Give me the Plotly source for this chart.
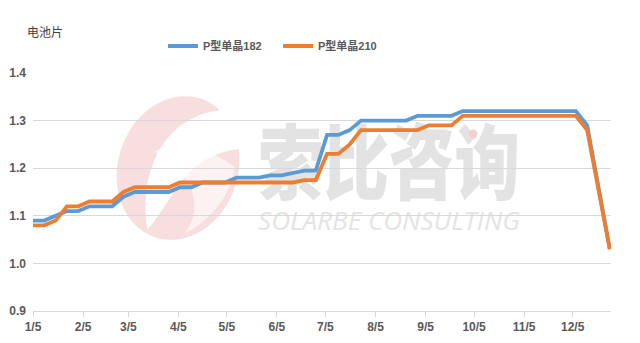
import base64
import pandas as pd
import plotly.graph_objects as go

# Weekly quote dates (every Wednesday of 2022)
dates = pd.date_range("2022-01-05", periods=52, freq="7D")

# Cell prices (RMB/W)
p182 = [1.09, 1.09, 1.10, 1.11, 1.11, 1.12, 1.12, 1.12, 1.14, 1.15, 1.15, 1.15, 1.15,
        1.16, 1.16, 1.17, 1.17, 1.17, 1.18, 1.18, 1.18, 1.185, 1.185, 1.19, 1.195, 1.195,
        1.27, 1.27, 1.28, 1.30, 1.30, 1.30, 1.30, 1.30, 1.31, 1.31, 1.31, 1.31,
        1.32, 1.32, 1.32, 1.32, 1.32, 1.32, 1.32, 1.32, 1.32, 1.32, 1.32, 1.29, 1.16, 1.03]
p210 = [1.08, 1.08, 1.09, 1.12, 1.12, 1.13, 1.13, 1.13, 1.15, 1.16, 1.16, 1.16, 1.16,
        1.17, 1.17, 1.17, 1.17, 1.17, 1.17, 1.17, 1.17, 1.17, 1.17, 1.17, 1.175, 1.175,
        1.23, 1.23, 1.25, 1.28, 1.28, 1.28, 1.28, 1.28, 1.28, 1.29, 1.29, 1.29,
        1.31, 1.31, 1.31, 1.31, 1.31, 1.31, 1.31, 1.31, 1.31, 1.31, 1.31, 1.28, 1.15, 1.03]

series_names = ["P型单晶182", "P型单晶210"]
series_colors = ["#5B9BD5", "#ED7D31"]

tick_dates = ["2022-01-05", "2022-02-05", "2022-03-05", "2022-04-05", "2022-05-05",
              "2022-06-05", "2022-07-05", "2022-08-05", "2022-09-05", "2022-10-05",
              "2022-11-05", "2022-12-05"]
tick_text = ["1/5", "2/5", "3/5", "4/5", "5/5", "6/5", "7/5", "8/5", "9/5", "10/5",
             "11/5", "12/5"]

W, H = 640, 343
ML, MR, MT, MB = 33, 29, 73, 32
PW, PH = W - ML - MR, H - MT - MB

# Brand watermark drawn as an SVG behind the plot
svg = f"""<svg xmlns="http://www.w3.org/2000/svg" width="{W}" height="{H}" viewBox="0 0 {W} {H}">
<g transform="rotate(18 178 168)">
<ellipse cx="178" cy="168" rx="60" ry="73" fill="#f6d3d3" fill-opacity="0.75"/>
<path d="M 205 98 C 150 120 140 180 168 236 C 185 200 178 150 238 128 C 228 112 218 102 205 98 Z" fill="#ffffff"/>
<path d="M 150 160 C 170 140 205 140 232 150 C 236 175 228 205 205 228 C 215 195 195 170 150 160 Z" fill="#ffffff" fill-opacity="0.6"/>
</g>
<text x="258" y="193" font-family="Noto Sans CJK SC" font-weight="900" font-size="82"
 textLength="262" lengthAdjust="spacingAndGlyphs" fill="#e3e3e3">索比咨询</text>
<circle cx="473" cy="134" r="4.5" fill="#f6d0d0"/>
<text x="258" y="230" font-family="Open Sans" font-style="italic" font-weight="400" font-size="26"
 textLength="262" lengthAdjust="spacingAndGlyphs" fill="#e4e4e4">SOLARBE CONSULTING</text>
</svg>"""
svg_uri = "data:image/svg+xml;base64," + base64.b64encode(svg.encode("utf-8")).decode()

fig = go.Figure()
for name, vals, col in zip(series_names, [p182, p210], series_colors):
    fig.add_trace(go.Scatter(
        x=dates, y=vals, mode="lines", name=name,
        line=dict(color=col, width=3.8),
    ))

fig.add_layout_image(dict(
    source=svg_uri, xref="paper", yref="paper",
    x=-ML / PW, y=1 + MT / PH, sizex=W / PW, sizey=H / PH,
    xanchor="left", yanchor="top", sizing="stretch", layer="below",
))

tick_font = dict(family="Liberation Sans, Arial, sans-serif", size=12, color="#595959", weight="bold")

fig.update_layout(
    width=W, height=H,
    margin=dict(l=ML, r=MR, t=MT, b=MB, autoexpand=False),
    paper_bgcolor="white",
    plot_bgcolor="rgba(0,0,0,0)",
    showlegend=True,
    legend=dict(
        orientation="h", x=(163 - ML) / PW, y=1 + (MT - 46) / PH,
        xanchor="left", yanchor="middle",
        font=dict(family="Liberation Sans, Noto Sans CJK SC, sans-serif", size=11,
                  color="#595959", weight="bold"),
        bgcolor="rgba(0,0,0,0)", itemwidth=30, entrywidth=70, tracegroupgap=0,
    ),
    xaxis=dict(
        type="date", range=["2022-01-05", "2022-12-28 18:00"],
        tickvals=tick_dates, ticktext=tick_text, tickfont=tick_font,
        ticks="outside", ticklen=5, tickcolor="#d9d9d9", tickwidth=1,
        showline=True, linecolor="#d9d9d9", linewidth=1, automargin=False,
        showgrid=False, zeroline=False, fixedrange=True,
    ),
    yaxis=dict(
        range=[0.9, 1.4], dtick=0.1, tick0=0.9, tickformat=".1f", tickfont=tick_font,
        showgrid=True, gridcolor="#d9d9d9", gridwidth=1, ticklabelstandoff=6,
        showline=False, zeroline=False, ticks="", fixedrange=True, automargin=False,
    ),
    annotations=[dict(
        text="电池片", xref="paper", yref="paper",
        x=(25 - ML) / PW, y=1 + (MT - 32) / PH, xanchor="left", yanchor="middle",
        showarrow=False,
        font=dict(family="Noto Sans CJK SC, sans-serif", size=12, color="#404040"),
    )],
)

fig.write_html("out.html")
